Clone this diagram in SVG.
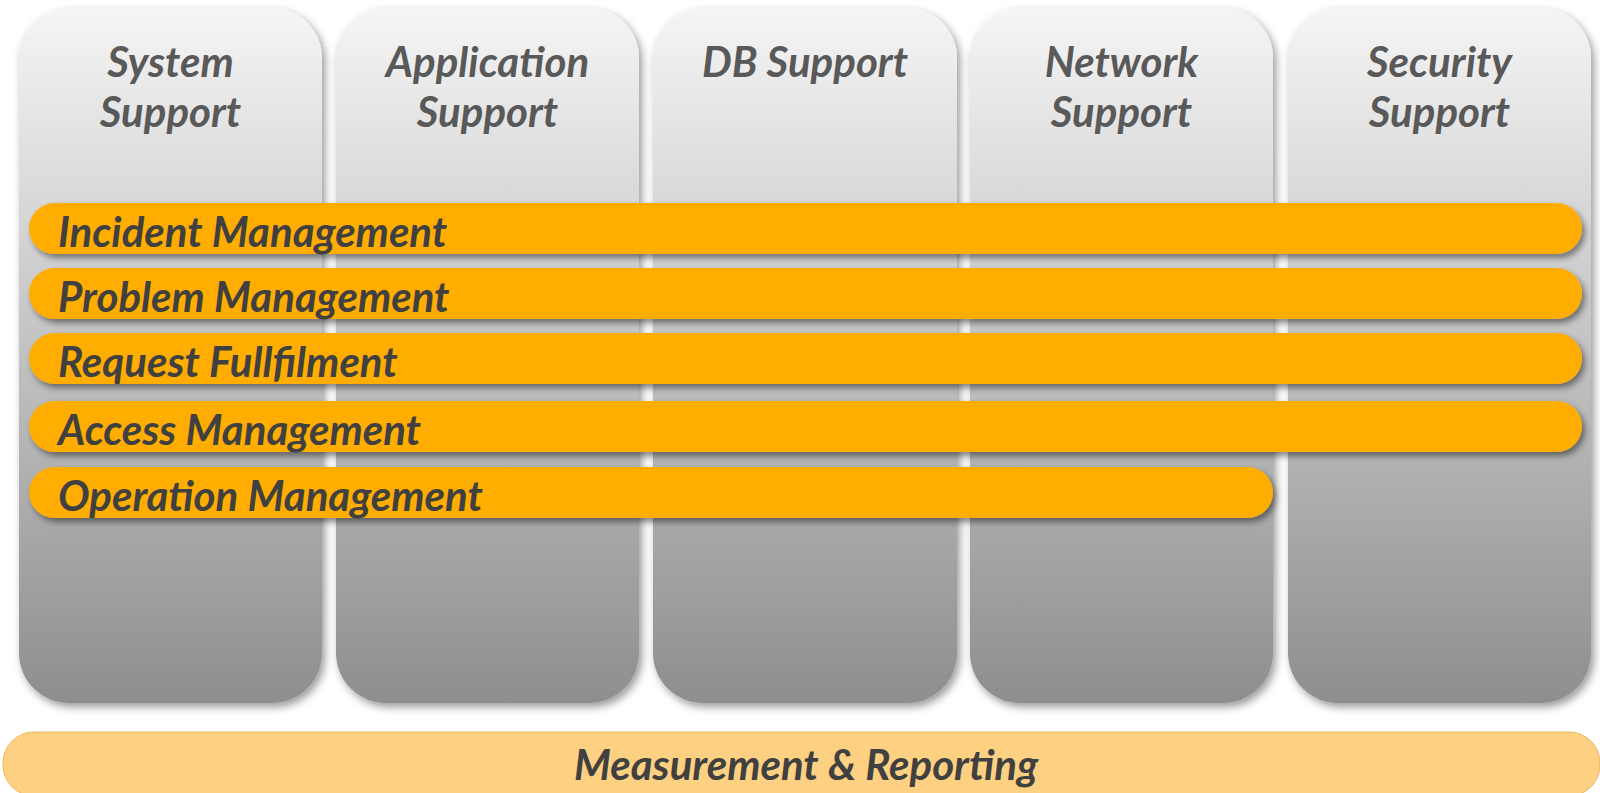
<svg xmlns="http://www.w3.org/2000/svg" width="1600" height="793" viewBox="0 0 1600 793">
<style>
.title{font-family:Lato,"Liberation Sans",sans-serif;font-weight:bold;font-style:italic;font-size:42px;fill:#595959;text-anchor:middle}
.bar{fill:#FFAD00;filter:url(#sh2)}
.blabel{font-family:Lato,"Liberation Sans",sans-serif;font-weight:bold;font-style:italic;font-size:42px;fill:#404040}
.col{fill:url(#g);filter:url(#sh)}
</style>
<defs>
<linearGradient id="g" x1="0" y1="0" x2="0" y2="1">
<stop offset="0" stop-color="#f5f5f5"/>
<stop offset="1" stop-color="#8e8e8e"/>
</linearGradient>
<filter id="sh" x="-10%" y="-10%" width="130%" height="130%">
<feDropShadow dx="3" dy="4" stdDeviation="4" flood-color="#000" flood-opacity="0.4"/>
</filter>
<filter id="sh2" x="-5%" y="-30%" width="110%" height="180%">
<feDropShadow dx="3" dy="4" stdDeviation="3" flood-color="#000" flood-opacity="0.45"/>
</filter>
</defs>
<g id="col-system"><rect class="col" x="19" y="8" width="303" height="695" rx="50"/><text class="title" x="170.5" y="77">System</text><text class="title" x="170.5" y="127">Support</text></g>
<g id="col-application"><rect class="col" x="336" y="8" width="303" height="695" rx="50"/><text class="title" x="487.5" y="77">Application</text><text class="title" x="487.5" y="127">Support</text></g>
<g id="col-db"><rect class="col" x="653" y="8" width="304" height="695" rx="50"/><text class="title" x="805" y="77">DB Support</text></g>
<g id="col-network"><rect class="col" x="970" y="8" width="303" height="695" rx="50"/><text class="title" x="1121.5" y="77">Network</text><text class="title" x="1121.5" y="127">Support</text></g>
<g id="col-security"><rect class="col" x="1288" y="8" width="303" height="695" rx="50"/><text class="title" x="1439.5" y="77">Security</text><text class="title" x="1439.5" y="127">Support</text></g>
<g id="bar-incident"><rect class="bar" x="29" y="203" width="1553" height="51" rx="25.5"/><text class="blabel" x="58" y="247">Incident Management</text></g>
<g id="bar-problem"><rect class="bar" x="29" y="268" width="1553" height="51" rx="25.5"/><text class="blabel" x="58" y="312">Problem Management</text></g>
<g id="bar-request"><rect class="bar" x="29" y="333" width="1553" height="51" rx="25.5"/><text class="blabel" x="58" y="377">Request Fullfilment</text></g>
<g id="bar-access"><rect class="bar" x="29" y="401" width="1553" height="51" rx="25.5"/><text class="blabel" x="58" y="445">Access Management</text></g>
<g id="bar-operation"><rect class="bar" x="29" y="467" width="1244" height="51" rx="25.5"/><text class="blabel" x="58" y="511">Operation Management</text></g>
<g id="bar-measurement"><rect x="3" y="732" width="1597" height="64" rx="31" fill="#FED081" stroke="#e8b860" stroke-width="1"/><text class="blabel" x="806" y="780" text-anchor="middle">Measurement &amp; Reporting</text></g>
<g id="connectors"/>
</svg>
